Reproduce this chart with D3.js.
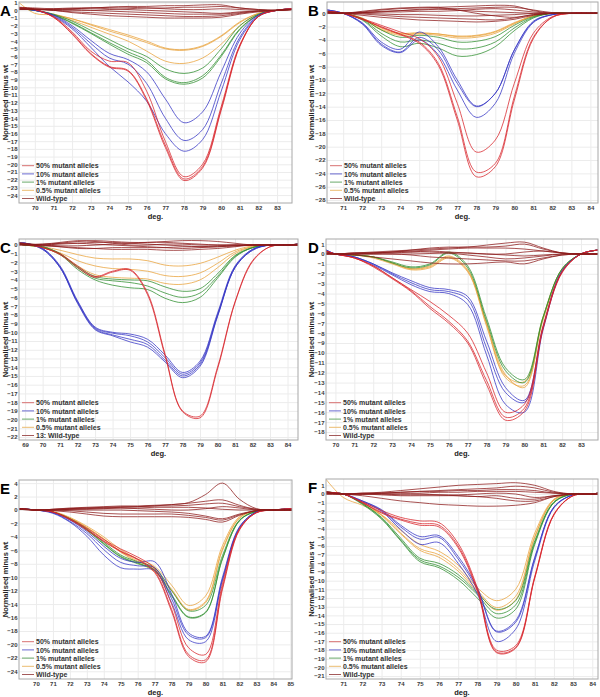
<!DOCTYPE html>
<html><head><meta charset="utf-8">
<script src="https://cdn.jsdelivr.net/npm/d3@7"></script>
<style>body{margin:0;background:#fff}svg{display:block}</style>
</head><body>
<script>
// ---------------- DATA ----------------
const legendLabels = ["50% mutant alleles","10% mutant alleles","1% mutant alleles","0.5% mutant alleles","Wild-type"];
const legendLabelsC = ["50% mutant alleles","10% mutant alleles","1% mutant alleles","0.5% mutant alleles","13: Wild-type"];

// Panel A
const xsA = [69.15,70,71,72,73,74,75,76,77,78,79,80,81,82,83,83.8];
const redA = [
 [0.3,0.1,-0.8,-2.8,-5.3,-6.6,-6.8,-10.5,-17.0,-21.6,-20.0,-12.5,-4.5,-0.8,0,0.2],
 [0.3,0.1,-0.9,-3.0,-5.6,-7.3,-7.8,-11.5,-17.5,-21.9,-20.3,-12.8,-4.6,-0.8,0,0.2],
 [0.3,0.1,-0.9,-3.1,-5.7,-7.4,-7.9,-11.7,-17.8,-22.1,-20.5,-13.0,-4.7,-0.8,0,0.2]];
const blueA = [
 [0.2,0,-0.6,-2.0,-3.9,-5.6,-6.4,-8.0,-11.5,-14.6,-13.2,-8.0,-3.0,-0.6,0,0.2],
 [0.2,0,-0.7,-2.2,-4.3,-6.2,-7.0,-9.5,-14.0,-16.9,-15.5,-9.5,-3.5,-0.7,0,0.2],
 [0.2,0,-0.8,-2.4,-4.8,-7.3,-9.3,-11.8,-16.0,-18.3,-16.8,-10.5,-3.8,-0.8,0,0.2]];
const greenA = [
 [0.2,0,-0.5,-1.4,-2.6,-3.8,-5.0,-6.0,-7.6,-8.2,-7.5,-5.0,-2.0,-0.5,0,0.2],
 [0.2,0,-0.6,-1.6,-2.9,-4.2,-5.4,-6.5,-8.7,-9.4,-8.5,-5.8,-2.4,-0.6,0,0.2],
 [0.2,0,-0.6,-1.7,-3.0,-4.4,-5.7,-6.8,-8.9,-9.6,-8.8,-6.0,-2.5,-0.6,0,0.2]];
const orangeA = [
 [1.0,-0.4,-0.6,-1.1,-1.8,-2.5,-3.2,-4.0,-4.9,-5.1,-4.6,-3.3,-1.5,-0.4,0,0.2],
 [0.2,0,-0.5,-1.1,-1.9,-2.7,-3.4,-4.2,-5.0,-5.2,-4.7,-3.4,-1.6,-0.4,0,0.2],
 [0.2,0,-0.6,-1.3,-2.2,-3.1,-4.0,-5.3,-6.6,-6.9,-6.2,-4.4,-2.0,-0.5,0,0.2]];
const wtA = [
 [0.1,0.1,0.1,0.2,0.3,0.4,0.5,0.5,0.6,0.6,0.7,0.7,0.3,0.1,0,0.1],
 [0.2,0.1,0,0,0,0.1,0.2,0.3,0.3,0.4,0.4,0.5,0.3,0.1,0,0.1],
 [0.3,0.2,0,-0.2,-0.3,-0.4,-0.5,-0.6,-0.7,-0.8,-0.8,-0.7,-0.4,-0.1,0,0.1],
 [0.3,0.2,0,-0.3,-0.5,-0.7,-0.8,-0.9,-1.0,-1.0,-1.0,-0.9,-0.5,-0.2,0,0.1],
 [0.2,0.1,0.2,0.3,0.3,0.2,0.1,0,-0.1,-0.2,-0.3,-0.4,-0.2,-0.1,0,0.1],
 [0.1,0.1,0.1,0.1,0,-0.1,-0.2,-0.3,-0.4,-0.5,-0.5,-0.5,-0.3,-0.1,0,0.1],
 [0.4,0.3,0.2,0.2,0.3,0.4,0.4,0.3,0.2,0.1,0.1,0.2,0.1,0,0,0.1]];
const yTicksA = d3.range(1,-25,-1);
const xTicksA = d3.range(70,84);

// Panel B
const xsB = [70.15,71,72,73,74,75,76,77,78,79,80,81,82,83,84,84.4];
const redB = [
 [0.3,0,-0.8,-1.8,-2.8,-3.8,-6.5,-13.5,-20.8,-19.0,-10.5,-3.0,-0.5,0,0,0],
 [0.3,0,-0.9,-2.0,-3.1,-4.3,-7.5,-15.5,-23.8,-22.5,-12.5,-3.6,-0.6,0,0,0],
 [0.3,0,-0.9,-2.1,-3.2,-4.5,-7.8,-16.0,-24.5,-23.0,-13.0,-3.8,-0.6,0,0,0]];
const blueB = [
 [0.5,0,-1.4,-4.3,-5.4,-2.8,-5.0,-10.0,-13.9,-12.0,-5.5,-1.2,-0.2,0,0,0],
 [0.5,0,-1.5,-4.6,-5.8,-3.6,-5.5,-10.5,-14.0,-12.0,-5.5,-1.3,-0.2,0,0,0],
 [0.5,0,-1.6,-4.8,-5.9,-4.0,-6.2,-11.5,-15.6,-13.5,-6.0,-1.4,-0.2,0,0,0]];
const greenB = [
 [0.3,0,-0.8,-2.5,-3.6,-3.3,-3.6,-4.3,-4.2,-3.5,-1.8,-0.5,0,0,0,0],
 [0.3,0,-0.9,-3.0,-4.3,-4.0,-4.5,-5.3,-5.2,-4.3,-2.2,-0.6,0,0,0,0],
 [0.3,0,-1.0,-3.4,-5.0,-4.5,-5.2,-6.4,-6.2,-5.0,-2.6,-0.7,0,0,0,0]];
const orangeB = [
 [0.2,0,-0.8,-2.4,-3.1,-3.0,-3.1,-3.5,-3.4,-2.8,-1.5,-0.4,0,0,0,0],
 [0.2,0,-0.8,-2.5,-3.3,-3.1,-3.3,-3.7,-3.6,-3.0,-1.6,-0.4,0,0,0,0],
 [0.2,0,-0.7,-2.2,-3.0,-2.9,-3.1,-3.4,-3.3,-2.7,-1.4,-0.4,0,0,0,0]];
const wtB = [
 [0,0,0.2,0.5,0.7,0.8,0.9,1.0,1.1,1.2,1.1,0.4,0,0,0,0],
 [0.2,0,-0.3,-0.6,-0.8,-1.0,-1.1,-1.2,-1.3,-1.2,-0.9,-0.3,0,0,0,0],
 [0.1,0,0.1,0.3,0.4,0.5,0.6,0.5,0.3,0.2,0.1,0,0,0,0,0],
 [0.1,0,-0.1,-0.3,-0.5,-0.6,-0.7,-0.8,-0.9,-1.0,-0.7,-0.2,0,0,0,0],
 [0.1,0,0.1,0.2,0.2,0.3,0.3,0.4,0.6,0.7,0.5,0.2,0,0,0,0],
 [0.2,0.1,0.1,0.2,0.4,0.6,0.7,0.7,0.8,0.9,0.9,0.5,0.1,0,0,0],
 [0.1,0,0,-0.1,-0.2,-0.2,-0.3,-0.4,-0.4,-0.3,-0.2,0,0,0,0,0],
 [0,0,0.3,0.6,0.8,0.9,0.9,0.5,0.0,-0.4,-0.6,-0.2,0,0,0,0]];
const yTicksB = d3.range(0,-29,-2);
const xTicksB = d3.range(71,85);

// Panel C
const xsC = [68.65,69,70,71,72,73,74,75,76,77,78,79,80,81,82,83,84,84.6];
const redC = [
 [0.2,0.1,-0.3,-1.0,-2.4,-3.6,-3.0,-2.8,-5.5,-12.5,-19.0,-19.6,-14.0,-6.5,-1.8,-0.2,0,0.1],
 [0.2,0.1,-0.3,-1.1,-2.6,-3.7,-3.1,-2.9,-5.7,-12.7,-19.1,-19.8,-14.2,-6.6,-1.9,-0.2,0,0.1]];
const blueC = [
 [0.2,0.2,-0.4,-2.4,-6.4,-9.4,-10.0,-10.2,-10.8,-12.6,-14.6,-13.3,-7.8,-2.4,-0.5,0,0,0.1],
 [0.2,0.2,-0.4,-2.5,-6.5,-9.5,-10.1,-10.4,-11.1,-12.9,-14.8,-13.5,-8.0,-2.5,-0.5,0,0,0.1],
 [0.2,0.2,-0.5,-2.6,-6.6,-9.6,-10.3,-10.8,-11.4,-13.2,-15.0,-13.7,-8.1,-2.6,-0.6,0,0,0.1],
 [0.2,0.2,-0.5,-2.6,-6.7,-9.7,-10.4,-11.1,-11.7,-13.4,-15.2,-13.9,-8.2,-2.6,-0.6,0,0,0.1]];
const greenC = [
 [0.1,0,-0.2,-1.0,-2.5,-3.6,-3.9,-4.0,-4.1,-4.8,-5.3,-5.0,-3.3,-1.2,-0.3,0,0,0.1],
 [0.1,0,-0.2,-1.0,-2.6,-3.8,-4.1,-4.3,-4.7,-5.5,-6.0,-5.5,-3.6,-1.3,-0.3,0,0,0.1],
 [0.1,0,-0.3,-1.1,-2.8,-4.0,-4.6,-4.9,-5.1,-6.1,-6.6,-6.0,-3.8,-1.4,-0.3,0,0,0.1]];
const orangeC = [
 [0.1,0,-0.2,-0.6,-1.1,-1.5,-1.6,-1.6,-1.8,-2.3,-2.4,-2.1,-1.4,-0.6,-0.1,0,0,0.1],
 [0.1,0,-0.3,-0.9,-1.8,-2.4,-2.7,-2.8,-3.0,-3.5,-3.6,-3.2,-2.1,-0.8,-0.2,0,0,0.1],
 [0.1,0,-0.3,-1.1,-2.4,-3.4,-3.7,-3.8,-3.9,-4.4,-4.5,-4.0,-2.6,-1.0,-0.2,0,0,0.1]];
const wtC = [
 [0.3,0.2,0,0.2,0.4,0.5,0.4,0.3,0.3,0.4,0.5,0.5,0.4,0.2,0,0,0,0],
 [0.1,0,-0.1,-0.2,-0.3,-0.4,-0.5,-0.5,-0.5,-0.6,-0.6,-0.5,-0.4,-0.2,0,0,0,0],
 [0,0,0,0.1,0.2,0.3,0.3,0.2,0.1,0,-0.1,-0.2,-0.2,-0.1,0,0,0,0],
 [0.2,0.1,0,-0.1,-0.1,0,0.1,0.2,0.3,0.3,0.2,0.1,0,0,0,0,0,0],
 [0,0,0.1,0.2,0.2,0.1,0,-0.1,-0.2,-0.3,-0.4,-0.3,-0.2,-0.1,0,0,0,0],
 [0.2,0.1,0,-0.2,-0.4,-0.4,-0.3,-0.3,-0.3,-0.3,-0.2,-0.2,-0.1,0,0,0,0,0],
 [0.1,0.1,0.1,0.3,0.5,0.4,0.2,0,0,0.1,0.1,0,0,0,0,0,0,0]];
const yTicksC = d3.range(0,-23,-1);
const xTicksC = d3.range(69,85);

// Panel D
const xsD = [69.5,70,71,72,73,74,75,76,77,78,79,80,81,82,83,83.9];
const redD = [
 [0.3,0,-0.4,-1.2,-2.4,-3.6,-4.8,-6.2,-8.0,-12.0,-16.0,-15.2,-7.2,-1.8,0,0.4],
 [0.3,0,-0.4,-1.2,-2.4,-3.7,-5.3,-6.8,-8.8,-12.8,-16.5,-15.6,-7.4,-1.8,0,0.4],
 [0.3,0,-0.4,-1.3,-2.5,-3.8,-5.5,-7.0,-9.0,-13.2,-16.8,-15.9,-7.5,-1.9,0,0.4]];
const blueD = [
 [0.4,0,-0.3,-1.0,-1.9,-2.7,-3.4,-3.6,-4.3,-8.8,-13.5,-14.8,-7.3,-1.7,0,0.4],
 [0.4,0,-0.3,-1.0,-2.0,-2.9,-3.6,-3.8,-4.6,-9.5,-14.0,-15.0,-7.4,-1.7,0,0.4],
 [0.4,0,-0.3,-1.1,-2.1,-3.1,-3.8,-4.0,-5.1,-10.2,-15.2,-16.0,-7.6,-1.8,0,0.4]];
const greenD = [
 [0.3,0,-0.1,-0.3,-0.8,-1.3,-1.0,0.2,-1.2,-6.5,-11.5,-12.7,-6.3,-1.5,0,0.4],
 [0.3,0,-0.1,-0.3,-0.9,-1.4,-1.1,0.1,-1.4,-6.8,-11.8,-13.0,-6.4,-1.5,0,0.4]];
const orangeD = [
 [0.3,0,-0.1,-0.3,-0.9,-1.5,-1.2,-0.2,-1.6,-7.0,-12.2,-13.5,-6.6,-1.6,0,0.4],
 [0.3,0,-0.1,-0.4,-1.0,-1.6,-1.4,-0.4,-1.8,-7.3,-12.5,-13.3,-6.5,-1.6,0,0.4],
 [0.3,0,-0.1,-0.3,-0.9,-1.5,-1.3,-0.3,-1.7,-7.1,-12.3,-12.9,-6.3,-1.5,0,0.4]];
const wtD = [
 [0,0,0.1,0.2,0.3,0.4,0.5,0.6,0.7,0.7,0.8,1.0,0.5,0.1,0,0],
 [0,0,0,0.1,0.2,0.3,0.4,0.5,0.6,0.6,0.6,0.5,0.3,0.1,0,0],
 [0.2,0,-0.1,-0.3,-0.5,-0.7,-0.9,-1.0,-1.0,-0.9,-0.8,-1.0,-0.5,-0.1,0,0],
 [0.1,0,0,0,0,-0.1,-0.3,-0.4,-0.5,-0.6,-0.7,-0.7,-0.4,-0.1,0,0],
 [0,0,0.1,0.1,0.2,0.2,0.3,0.2,0.1,0,0,0.2,0.3,0.1,0,0],
 [0.1,0,0,0,0,0,0.05,0.1,0.1,0,-0.1,-0.2,-0.1,0,0,0],
 [0,0,0.1,0.1,0.1,0.2,0.2,0.1,-0.1,-0.3,-0.5,-0.4,-0.2,0,0,0],
 [0.1,0,0,0.1,0.2,0.4,0.6,0.7,0.7,0.9,1.1,1.2,0.6,0.1,0,0]];
const yTicksD = d3.range(1,-19,-1);
const xTicksD = d3.range(70,84);

// Panel E
const xsE = [69,70,71,72,73,74,75,76,77,78,79,80,81,82,83,84,85.1];
const redE = [
 [0.2,0,-0.3,-1.3,-2.7,-4.4,-5.8,-7.0,-8.7,-14.0,-20.5,-21.5,-11.0,-2.8,-0.4,0,0.2],
 [0.2,0,-0.3,-1.4,-2.9,-4.6,-6.1,-7.3,-9.1,-14.8,-21.5,-22.3,-11.5,-2.9,-0.4,0,0.2],
 [0.2,0,-0.3,-1.4,-3.0,-4.7,-6.2,-7.4,-9.3,-15.1,-21.8,-22.6,-11.8,-3.0,-0.4,0,0.2]];
const blueE = [
 [0.2,0,-0.4,-1.5,-3.2,-5.4,-7.2,-7.8,-7.7,-12.5,-18.3,-18.8,-10.0,-2.5,-0.3,0,0.2],
 [0.2,0,-0.4,-1.7,-3.5,-5.9,-7.8,-8.3,-8.6,-13.2,-18.6,-19.0,-10.3,-2.6,-0.3,0,0.2],
 [0.2,0,-0.5,-1.8,-3.9,-6.7,-8.6,-8.8,-9.0,-13.8,-19.3,-19.6,-10.5,-2.7,-0.3,0,0.2]];
const greenE = [
 [0.2,0,-0.3,-1.3,-2.8,-4.8,-6.7,-7.7,-8.6,-12.0,-15.0,-14.2,-6.8,-1.5,-0.2,0,0.2],
 [0.2,0,-0.3,-1.3,-2.9,-5.0,-6.9,-7.9,-8.9,-12.6,-15.9,-15.2,-7.2,-1.6,-0.2,0,0.2],
 [0.2,0,-0.3,-1.4,-3.0,-5.1,-7.0,-8.0,-9.0,-12.8,-16.0,-15.3,-7.3,-1.6,-0.2,0,0.2]];
const orangeE = [
 [0.2,0,-0.2,-1.1,-2.4,-4.0,-5.9,-7.3,-8.4,-11.2,-14.2,-12.8,-5.3,-1.0,-0.1,0,0.2],
 [0.2,0,-0.3,-1.2,-2.6,-4.3,-6.2,-7.6,-8.8,-11.8,-14.8,-13.6,-5.8,-1.2,-0.1,0,0.2],
 [0.2,0,-0.3,-1.2,-2.6,-4.3,-6.3,-7.8,-9.2,-12.0,-14.9,-13.8,-6.0,-1.2,-0.1,0,0.2]];
const wtE = [
 [0.2,0,0,0.1,0.2,0.3,0.4,0.5,0.6,0.8,1.1,2.3,4.0,1.6,0.2,0,0],
 [0.2,0,0.1,0.3,0.4,0.5,0.6,0.6,0.7,0.8,1.0,1.3,1.5,0.7,0.1,0,0],
 [0.2,0,-0.1,-0.3,-0.6,-0.9,-1.0,-1.0,-1.0,-1.0,-1.1,-1.4,-1.8,-0.8,-0.1,0,0],
 [0.2,0,0.1,0.2,0.3,0.4,0.5,0.5,0.6,0.6,0.7,0.9,1.0,0.5,0.1,0,0],
 [0.1,0,0,0,0,0,0,-0.1,-0.2,-0.3,-0.5,-0.9,-1.3,-0.6,-0.1,0,0],
 [0.1,0,0,-0.1,-0.3,-0.5,-0.6,-0.6,-0.6,-0.6,-0.8,-1.1,-1.5,-0.7,-0.1,0,0],
 [0.1,0,0.1,0.2,0.3,0.3,0.3,0.2,0.1,0,0,0.2,0.5,0.3,0,0,0],
 [0.2,0,0,0.1,0.1,0.2,0.3,0.3,0.4,0.4,0.4,0.3,0.1,0,0,0,0]];
const yTicksE = d3.range(4,-25,-2);
const xTicksE = d3.range(70,86);

// Panel F
const xsF = [70.1,71,72,73,74,75,76,77,78,79,80,81,82,83,84,84.3];
const redF = [
 [0.2,0,-0.9,-1.9,-2.7,-3.1,-3.3,-5.7,-10.8,-18.0,-17.5,-9.5,-2.3,-0.2,0,0.1],
 [0.2,0,-1.0,-2.1,-2.9,-3.4,-3.6,-6.0,-11.0,-18.2,-17.7,-9.6,-2.4,-0.2,0,0.1],
 [0.2,0,-1.0,-2.2,-3.0,-3.6,-3.8,-6.2,-11.2,-18.3,-17.8,-9.7,-2.4,-0.2,0,0.1]];
const blueF = [
 [0.2,0,-0.8,-1.8,-3.6,-4.9,-4.8,-7.2,-10.8,-15.8,-14.6,-7.3,-1.5,-0.1,0,0.1],
 [0.2,0,-0.8,-1.9,-3.8,-5.2,-5.0,-7.5,-11.0,-15.9,-14.8,-7.4,-1.5,-0.1,0,0.1],
 [0.2,0,-0.9,-2.0,-4.1,-5.8,-5.6,-8.0,-11.5,-17.0,-15.6,-7.7,-1.6,-0.1,0,0.1]];
const greenF = [
 [0.2,0,-1.1,-2.7,-5.1,-7.4,-8.0,-9.3,-11.4,-13.3,-12.3,-5.4,-0.9,0,0,0.1],
 [0.2,0,-1.1,-2.8,-5.3,-7.6,-8.3,-9.6,-11.6,-13.8,-12.8,-5.6,-1.0,0,0,0.1],
 [0.2,0,-1.2,-2.9,-5.4,-7.8,-8.5,-9.9,-12.0,-14.3,-13.3,-5.8,-1.0,0,0,0.1]];
const orangeF = [
 [1.7,-0.4,-1.3,-2.4,-4.2,-5.8,-6.6,-8.2,-10.8,-12.3,-11.0,-4.5,-0.6,0,0,0.1],
 [0.2,0,-1.0,-2.4,-4.5,-6.3,-7.0,-8.6,-11.1,-13.1,-11.8,-4.9,-0.7,0,0,0.1],
 [0.2,0,-1.0,-2.5,-4.6,-6.5,-7.3,-8.9,-11.3,-13.4,-12.2,-5.0,-0.7,0,0,0.1]];
const wtF = [
 [0.3,0,0.1,0.2,0.4,0.6,0.8,1.0,1.1,1.2,1.3,1.0,0.3,0,0,0],
 [0.2,0,-0.2,-0.5,-0.8,-1.0,-1.2,-1.3,-1.4,-1.4,-1.3,-1.0,-0.3,0,0,0],
 [0.1,0,0,0.1,0.2,0.3,0.4,0.5,0.6,0.7,0.9,0.7,0.2,0,0,0],
 [0.1,0,0,0,0,0,-0.1,-0.2,-0.3,-0.5,-0.8,-0.8,-0.3,0,0,0],
 [0,0,0.1,0.1,0.2,0.3,0.3,0.4,0.4,0.5,0.5,0.4,0.1,0,0,0],
 [0,0,0,-0.1,-0.2,-0.2,-0.2,-0.2,-0.3,-0.2,-0.5,-0.6,-0.2,0,0,0],
 [0.1,0,0,0.1,0.1,0.1,0.2,0.2,0.3,0.3,0.3,0.2,0.1,0,0,0],
 [0,0,0,0,-0.1,-0.1,-0.1,-0.1,0,0.1,0,-0.4,-0.2,0,0,0]];
const yTicksF = d3.range(1,-22,-1);
const xTicksF = d3.range(71,85);

// ---------------- LAYOUT / STYLE ----------------
const colors = {red:"#d8242a", blue:"#3434c4", green:"#2e8e2e", orange:"#e9a23a", wt:"#8c1c1c"};
const legendColors = ["#d87070","#6a6ad0","#6aaa6a","#ecbc70","#a45a5a"];
const fontFam = "'Liberation Sans', Arial, Helvetica, sans-serif";

const panels = [
 {letter:"A", box:[19,292,2,203], xd:[xsA[0],xsA[xsA.length-1]], y0px:10.3, ypu:7.7, xs:xsA, s:{red:redA,blue:blueA,green:greenA,orange:orangeA,wt:wtA}, yt:yTicksA, xt:xTicksA, leg:legendLabels},
 {letter:"B", box:[327,598,2,203], xd:[xsB[0],xsB[xsB.length-1]], y0px:13.3, ypu:6.67, xs:xsB, s:{red:redB,blue:blueB,green:greenB,orange:orangeB,wt:wtB}, yt:yTicksB, xt:xTicksB, leg:legendLabels},
 {letter:"C", box:[19,298,239,440], xd:[xsC[0],xsC[xsC.length-1]], y0px:245, ypu:8.73, xs:xsC, s:{red:redC,blue:blueC,green:greenC,orange:orangeC,wt:wtC}, yt:yTicksC, xt:xTicksC, leg:legendLabelsC},
 {letter:"D", box:[326,598,239,440], xd:[xsD[0],xsD[xsD.length-1]], y0px:254, ypu:9.89, xs:xsD, s:{red:redD,blue:blueD,green:greenD,orange:orangeD,wt:wtD}, yt:yTicksD, xt:xTicksD, leg:legendLabels},
 {letter:"E", box:[19,292,480,679], xd:[xsE[0],xsE[xsE.length-1]], y0px:510, ypu:6.72, xs:xsE, s:{red:redE,blue:blueE,green:greenE,orange:orangeE,wt:wtE}, yt:yTicksE, xt:xTicksE, leg:legendLabels},
 {letter:"F", box:[326,598,479,679], xd:[xsF[0],xsF[xsF.length-1]], y0px:494, ypu:8.67, xs:xsF, s:{red:redF,blue:blueF,green:greenF,orange:orangeF,wt:wtF}, yt:yTicksF, xt:xTicksF, leg:legendLabels}
];

const svg = d3.select("body").append("svg").attr("width",600).attr("height",697)
  .style("font-family",fontFam);

panels.forEach((p,pi)=>{
  const [x0,x1,y0,y1] = p.box;
  const x = d3.scaleLinear().domain(p.xd).range([x0,x1]);
  const yTop = (p.y0px - y0)/p.ypu, yBot = -(y1 - p.y0px)/p.ypu;
  const y = d3.scaleLinear().domain([yBot,yTop]).range([y1,y0]);
  const g = svg.append("g");

  // grid
  g.append("g").attr("transform",`translate(0,${y1})`)
    .call(d3.axisBottom(x).tickValues(p.xt).tickSize(-(y1-y0)).tickFormat(""))
    .call(a=>{a.select(".domain").remove(); a.selectAll("line").attr("stroke","#ececec");});
  g.append("g").attr("transform",`translate(${x0},0)`)
    .call(d3.axisLeft(y).tickValues(p.yt).tickSize(-(x1-x0)).tickFormat(""))
    .call(a=>{a.select(".domain").remove(); a.selectAll("line").attr("stroke","#ececec");});

  // tick labels
  g.append("g").attr("transform",`translate(0,${y1})`)
    .call(d3.axisBottom(x).tickValues(p.xt).tickSize(0).tickPadding(3).tickFormat(d3.format("d")))
    .call(a=>{a.select(".domain").remove(); a.selectAll("text").attr("font-size",6).attr("fill","#3a3a3a").attr("font-weight","bold").attr("font-family",fontFam);});
  g.append("g").attr("transform",`translate(${x0-1.5},0)`)
    .call(d3.axisLeft(y).tickValues(p.yt).tickSize(0).tickPadding(0).tickFormat(d3.format("d")))
    .call(a=>{a.select(".domain").remove(); a.selectAll("text").attr("font-size",6).attr("fill","#3a3a3a").attr("font-weight","bold").attr("font-family",fontFam);});

  // clip
  const cid = "clip"+pi;
  svg.append("clipPath").attr("id",cid).append("rect").attr("x",x0).attr("y",y0).attr("width",x1-x0).attr("height",y1-y0);
  const line = d3.line().x((d,i)=>x(p.xs[i])).y(d=>y(d)).curve(d3.curveCatmullRom.alpha(0.5));
  const cg = g.append("g").attr("clip-path",`url(#${cid})`);
  ["orange","green","blue","red","wt"].forEach(k=>{
    cg.selectAll(null).data(p.s[k]).join("path")
      .attr("d",line).attr("fill","none").attr("stroke",colors[k])
      .attr("stroke-width",0.9).attr("stroke-opacity",0.85);
  });

  // frame
  g.append("rect").attr("x",x0).attr("y",y0).attr("width",x1-x0).attr("height",y1-y0)
    .attr("fill","none").attr("stroke","#a8a8a8").attr("stroke-width",1);

  // axis titles
  g.append("text").attr("x",(x0+x1)/2).attr("y",Math.min(y1+16,696)).attr("text-anchor","middle")
    .attr("font-size",7.5).attr("font-weight","bold").attr("fill","#222").text("deg.");
  const tx = x0 < 100 ? 7.5 : 314;
  g.append("text").attr("transform",`translate(${tx},${(y0+y1)/2}) rotate(-90)`).attr("text-anchor","middle")
    .attr("font-size",7.5).attr("font-weight","bold").attr("fill","#222").text("Normalised minus wt");

  // letter
  g.append("text").attr("x", x0<100 ? 0 : 308).attr("y", y0+14).attr("font-size",15).attr("font-weight","bold")
    .attr("fill","#000").text(p.letter);

  // legend
  const lx0 = x0 + 3, lx1 = x0 + 15;
  p.leg.forEach((lab,i)=>{
    const ly = y1 - 4.5 - (4-i)*8.2;
    g.append("line").attr("x1",lx0).attr("x2",lx1).attr("y1",ly).attr("y2",ly)
      .attr("stroke",legendColors[i]).attr("stroke-width",1);
    g.append("text").attr("x",lx1+2).attr("y",ly+2.6).attr("font-size",7).attr("font-weight","bold")
      .attr("fill","#333").text(lab);
  });
});
</script>
</body></html>
